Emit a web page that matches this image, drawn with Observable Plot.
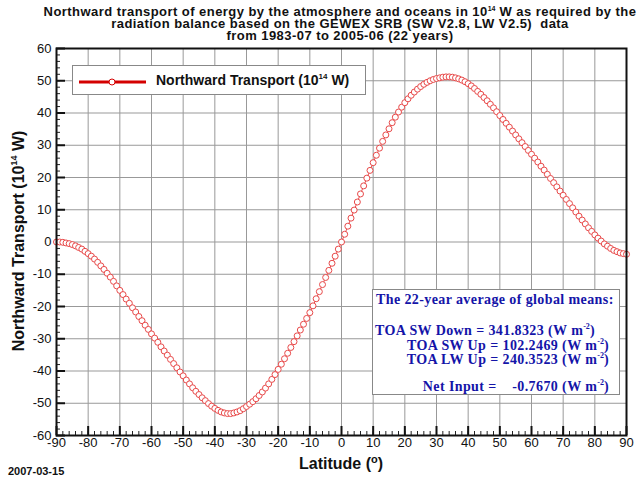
<!DOCTYPE html>
<html><head><meta charset="utf-8">
<script src="https://cdn.jsdelivr.net/npm/d3@7"></script>
<script src="https://cdn.jsdelivr.net/npm/@observablehq/plot@0.6"></script>
<style>
body{margin:0;background:#fff;width:638px;height:484px;overflow:hidden;position:relative;font-family:"Liberation Sans",Arial,sans-serif;}
#title{position:absolute;left:0;width:680px;top:3px;text-align:center;font-weight:bold;font-size:13px;letter-spacing:0.45px;line-height:12px;color:#111;white-space:nowrap;}
#chart{position:absolute;left:0;top:0;}
.sup{font-size:7px;vertical-align:5px;letter-spacing:0;}
#ylab{position:absolute;left:18px;top:241px;transform:translate(-50%,-50%) rotate(-90deg);font-weight:bold;font-size:16px;white-space:nowrap;color:#111;}
#xlab{position:absolute;left:341px;top:453px;transform:translateX(-50%);font-weight:bold;font-size:16px;white-space:nowrap;color:#111;}
#date{position:absolute;left:8px;top:465px;font-weight:bold;font-size:11px;color:#111;}
#legend{position:absolute;left:72px;top:65px;width:294px;height:30px;border:1px solid #888;background:#fff;box-sizing:border-box;}
#legend svg{position:absolute;left:5px;top:10px;}
#legend .ltxt{position:absolute;left:83px;top:6px;font-weight:bold;font-size:14px;white-space:nowrap;color:#111;}
#info{position:absolute;left:372px;top:289px;width:248px;height:106px;border:1px solid #888;background:#fff;box-sizing:border-box;font-family:"Liberation Serif","Times New Roman",serif;font-weight:bold;font-size:14px;letter-spacing:0.4px;color:#1414a8;line-height:13px;}
#info .row{position:absolute;right:10px;white-space:nowrap;}
#info .sup2{font-size:8px;vertical-align:6px;letter-spacing:0;}
</style></head><body>
<div id="chart"></div>
<div id="title">Northward transport of energy by the atmosphere and oceans in 10<span class="sup">14</span> W as required by the<br>radiation balance based on the GEWEX SRB (SW V2.8, LW V2.5)&nbsp; data<br>from 1983-07 to 2005-06 (22 years)</div>
<div id="ylab">Northward Transport (10<span class="sup" style="font-size:9px;vertical-align:7px">14</span> W)</div>
<div id="xlab">Latitude (<span style="font-size:11px;vertical-align:6px">o</span>)</div>
<div id="date">2007-03-15</div>
<div id="legend"><svg width="70" height="10"><line x1="1" y1="6" x2="68" y2="6" stroke="#d40000" stroke-width="3"/><circle cx="34" cy="6" r="3" fill="#fff" stroke="#d40000" stroke-width="1"/></svg><span class="ltxt">Northward Transport (10<span class="sup" style="font-size:8px;vertical-align:6px">14</span> W)</span></div>
<div id="info">
<div class="row" style="top:3px;left:3px;right:auto">The 22-year average of global means:</div>
<div class="row" style="top:30px;left:2px;right:auto">TOA SW Down = 341.8323 (W m<span class="sup2">-2</span>)</div>
<div class="row" style="top:45px">TOA SW Up = 102.2469 (W m<span class="sup2">-2</span>)</div>
<div class="row" style="top:59px">TOA LW Up = 240.3523 (W m<span class="sup2">-2</span>)</div>
<div class="row" style="top:86px">Net Input = &nbsp;&nbsp; -0.7670 (W m<span class="sup2">-2</span>)</div>
</div>
<script>
const latitudes = d3.range(-90, 91, 1);
const transport = [
 0.0, 0.0, -0.1, -0.3, -0.5, -0.8, -1.2, -1.7, -2.2, -2.9,
 -3.6, -4.4, -5.3, -6.3, -7.4, -8.5, -9.7, -10.9, -12.2, -13.6,
 -15.0, -16.3, -17.7, -19.0, -20.4, -21.7, -23.1, -24.4, -25.8, -27.1,
 -28.5, -29.8, -31.1, -32.5, -33.8, -35.1, -36.4, -37.7, -39.0, -40.3,
 -41.5, -42.8, -44.0, -45.2, -46.3, -47.3, -48.3, -49.2, -50.1, -50.9,
 -51.6, -52.2, -52.7, -53.0, -53.2, -53.2, -53.0, -52.7, -52.3, -51.7,
 -51.0, -50.3, -49.5, -48.6, -47.6, -46.5, -45.3, -44.0, -42.6, -41.1,
 -39.5, -37.9, -36.2, -34.5, -32.7, -30.9, -29.1, -27.3, -25.5, -23.7,
 -21.9, -19.8, -17.6, -15.4, -13.2, -11.0, -8.8, -6.6, -4.4, -2.2,
 0.0, 2.4, 4.9, 7.4, 9.9, 12.4, 14.9, 17.4, 19.8, 22.2,
 24.6, 26.9, 29.1, 31.2, 33.2, 35.1, 37.0, 38.7, 40.3, 41.8,
 43.2, 44.4, 45.5, 46.5, 47.4, 48.2, 48.9, 49.5, 50.0, 50.4,
 50.7, 50.9, 51.1, 51.2, 51.2, 51.1, 50.9, 50.6, 50.2, 49.7,
 49.1, 48.4, 47.6, 46.7, 45.8, 44.8, 43.8, 42.7, 41.6, 40.4,
 39.2, 38.0, 36.8, 35.6, 34.4, 33.2, 32.0, 30.8, 29.6, 28.4,
 27.2, 26.0, 24.8, 23.5, 22.3, 21.0, 19.7, 18.4, 17.1, 15.8,
 14.5, 13.2, 11.9, 10.6, 9.3, 8.0, 6.8, 5.6, 4.4, 3.3,
 2.2, 1.2, 0.3, -0.6, -1.3, -2.0, -2.6, -3.0, -3.4, -3.6,
 -3.8
];
const xTicks = d3.range(-90, 91, 10);
const yTicks = d3.range(-60, 61, 10);
const xMinor = d3.range(-90, 91, 2);
const yMinor = d3.range(-60, 61, 2);
const data = latitudes.map((lat, i) => ({lat, v: transport[i]}));

const W = 638, H = 484, mT = 48, mB = 49, mL = 56, mR = 12;
const fh = H - mT - mB, fw = W - mL - mR;
const chart = Plot.plot({
  width: W, height: H,
  marginTop: mT, marginBottom: mB, marginLeft: mL, marginRight: mR,
  x: {domain: [-90, 90]},
  y: {domain: [-60, 60]},
  style: {fontFamily: "Liberation Sans, Arial, sans-serif", fontSize: "13px", color: "#111", background: "transparent"},
  marks: [
    Plot.ruleX(xTicks, {x: d => d, stroke: "#999", strokeWidth: 1}),
    Plot.ruleY(yTicks, {y: d => d, stroke: "#999", strokeWidth: 1}),
    Plot.tickX(xMinor, {x: d => d, insetTop: fh - 4, stroke: "#222", strokeWidth: 1}),
    Plot.tickX(xTicks, {x: d => d, insetTop: fh - 9, stroke: "#111", strokeWidth: 2}),
    Plot.tickY(yMinor, {y: d => d, insetRight: fw - 4, stroke: "#222", strokeWidth: 1}),
    Plot.tickY(yTicks, {y: d => d, insetRight: fw - 9, stroke: "#111", strokeWidth: 2}),
    Plot.line(data, {x: "lat", y: "v", stroke: "#e84a4a", strokeWidth: 1}),
    Plot.dot(data, {x: "lat", y: "v", r: 3, stroke: "#e84a4a", fill: "#fff", strokeWidth: 1}),
    Plot.frame({stroke: "#111", strokeWidth: 2}),
    Plot.axisX({ticks: xTicks, tickSize: 0, tickPadding: 2, tickFormat: d => String(d), fontSize: 13, label: null}),
    Plot.axisY({ticks: yTicks, tickSize: 0, tickPadding: 5, tickFormat: d => String(d), fontSize: 13, label: null})
  ]
});
document.getElementById("chart").appendChild(chart);
</script>
</body></html>
